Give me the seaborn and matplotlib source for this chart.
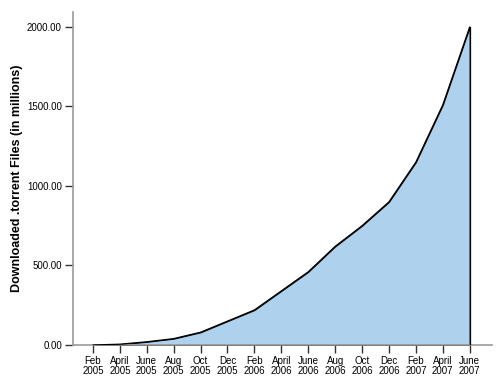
import numpy as np
import pandas as pd
import matplotlib
matplotlib.use("Agg")
import matplotlib.pyplot as plt
import seaborn as sns

months = ["Feb", "April", "June", "Aug", "Oct", "Dec", "Feb", "April", "June",
          "Aug", "Oct", "Dec", "Feb", "April", "June"]
years = ["2005"] * 6 + ["2006"] * 6 + ["2007"] * 3
downloads = [0, 5, 20, 40, 80, 150, 220, 340, 460, 620, 750, 900, 1150, 1510, 2000]
yticks = [0, 500, 1000, 1500, 2000]

df = pd.DataFrame({"pos": np.arange(len(months)), "downloads": downloads})

sns.set_style("ticks")
plt.rcParams["font.family"] = ["Liberation Sans", "DejaVu Sans"]

fig = plt.figure(figsize=(5, 3.84), dpi=100)
ax = fig.add_axes([0.146, 0.1016, 0.838, 0.867])

# area under the curve
ax.fill_between(df["pos"], df["downloads"], 0, color="#aed1ee", edgecolor="black", linewidth=0.8, zorder=2)
sns.lineplot(data=df, x="pos", y="downloads", color="black", linewidth=0.9, ax=ax, zorder=3)
ax.plot([df["pos"].iloc[-1]] * 2, [0, downloads[-1]], color="black", linewidth=0.9, zorder=3)

ax.set_xlim(-0.74, 14.83)
ax.set_ylim(0, 2094)
ax.set_xticks(df["pos"])
ax.set_xticklabels([m + "\n" + y for m, y in zip(months, years)], fontsize=7, linespacing=1.0, color="black")
ax.set_yticks(yticks)
ax.set_yticklabels(["%.2f" % v for v in yticks], fontsize=7, color="black")
ax.tick_params(axis="both", direction="out", length=6, width=1, color="#333333", pad=2)

ax.set_xlabel("")
ax.set_ylabel("Downloaded .torrent Files (in millions)", fontsize=9, fontweight="bold", color="black", labelpad=3)

for s in ["top", "right"]:
    ax.spines[s].set_visible(False)
for s in ["left", "bottom"]:
    ax.spines[s].set_color("#999999")
    ax.spines[s].set_linewidth(1.2)

fig.savefig("out.png", dpi=100)
